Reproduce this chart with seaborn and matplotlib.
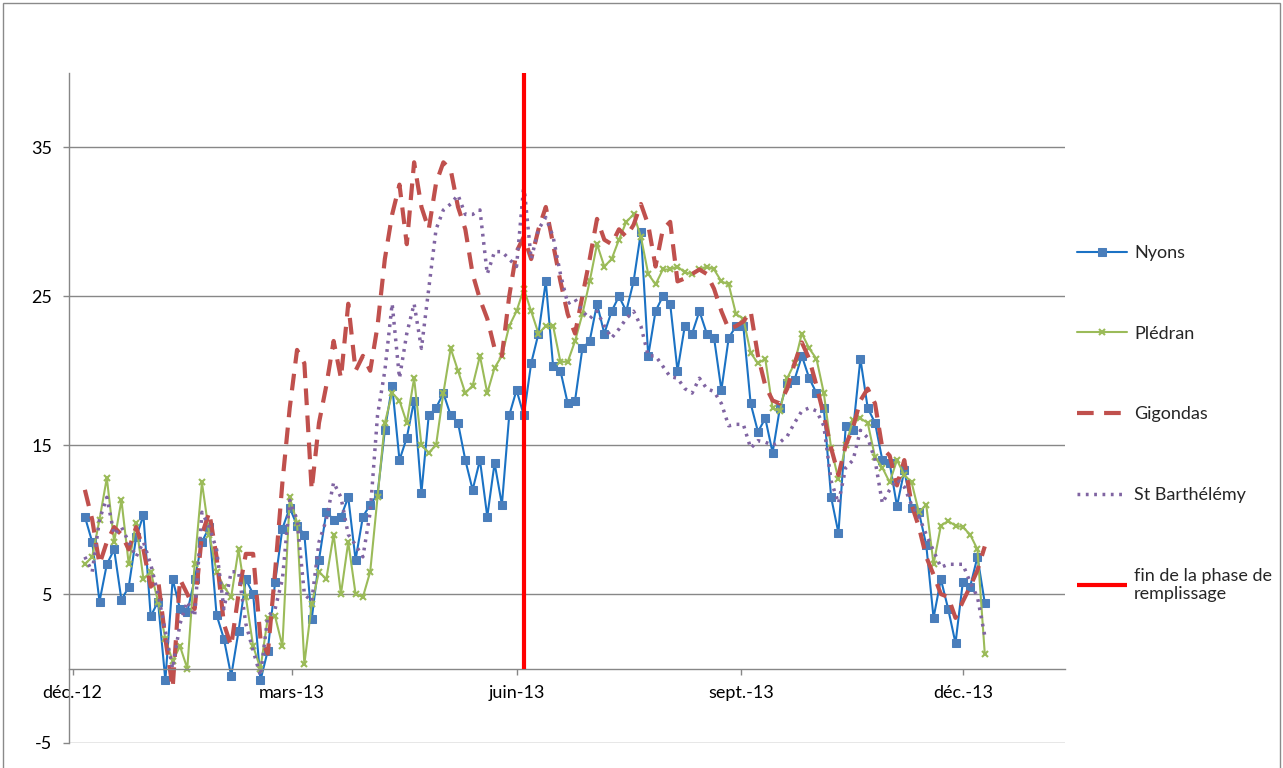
import numpy as np
import pandas as pd
import matplotlib
matplotlib.use("Agg")
import matplotlib.pyplot as plt
import seaborn as sns
from matplotlib.patches import Rectangle

# relevés tous les 3 jours, du 6 déc. 2012 au 10 déc. 2013
dates = pd.date_range("2012-12-06", periods=124, freq="3D")

nyons = [10.2, 8.5, 4.5, 7.0, 8.0, 4.6, 5.5, 8.8, 10.3, 3.5, 4.5, -0.8, 6.0, 4.0, 3.8, 6.0, 8.5, 9.5, 3.6, 2.0,
         -0.5, 2.5, 6.0, 5.0, -0.8, 1.2, 5.8, 9.4, 10.8, 9.6, 9.0, 3.3, 7.3, 10.5, 10.0, 10.2, 11.5, 7.3, 10.2, 11.0, 11.7, 16.0,
         19.0, 14.0, 15.5, 18.0, 11.8, 17.0, 17.5, 18.5, 17.0, 16.5, 14.0, 12.0, 14.0, 10.2, 13.8, 11.0, 17.0, 18.7, 17.0, 20.5, 22.5, 26.0,
         20.3, 20.0, 17.8, 18.0, 21.5, 22.0, 24.5, 22.5, 24.0, 25.0, 24.0, 26.0, 29.3, 21.0, 24.0, 25.0, 24.5, 20.0, 23.0, 22.5, 24.0, 22.5,
         22.2, 18.7, 22.2, 23.0, 23.0, 17.8, 15.9, 16.8, 14.5, 17.5, 19.2, 19.4, 21.0, 19.5, 18.5, 17.5, 11.5, 9.1, 16.3, 16.0, 20.8,
         17.5, 16.5, 14.0, 13.8, 10.9, 13.3, 10.8, 10.5, 8.3, 3.4, 6.0, 4.0, 1.7, 5.8, 5.5, 7.5, 4.4]

pledran = [7.0, 7.5, 10.0, 12.8, 8.5, 11.3, 7.0, 9.8, 6.0, 6.5, 4.5, 2.0, 0.5, 1.5, 0.0, 7.0, 12.5, 9.0, 6.5, 5.5,
           4.8, 8.0, 4.8, 1.5, 0.0, 3.4, 3.5, 1.5, 11.5, 9.8, 0.3, 4.3, 6.5, 6.0, 9.0, 5.0, 8.5, 5.0, 4.8, 6.5, 11.5, 16.5,
           18.5, 18.0, 16.5, 19.5, 15.0, 14.5, 15.0, 18.5, 21.5, 20.0, 18.5, 19.0, 21.0, 18.5, 20.2, 21.0, 23.0, 24.0, 25.5, 24.0, 22.5, 23.0,
           23.0, 20.6, 20.6, 22.0, 23.8, 26.0, 28.5, 27.0, 27.5, 28.8, 30.0, 30.5, 29.0, 26.5, 25.8, 26.8, 26.8, 27.0, 26.6, 26.5, 26.8, 27.0,
           26.8, 26.0, 25.8, 23.8, 23.5, 21.2, 20.5, 20.8, 17.5, 17.3, 19.5, 20.5, 22.5, 21.5, 20.8, 18.5, 14.8, 12.7, 15.0, 16.7, 16.8,
           16.5, 14.2, 13.5, 12.5, 14.0, 13.0, 12.5, 10.5, 11.0, 7.0, 9.6, 9.9, 9.6, 9.5, 9.0, 8.0, 1.0]

gigondas = [12.0, 10.0, 7.0, 8.5, 9.5, 9.0, 8.0, 9.5, 8.0, 5.5, 6.0, 2.0, -1.3, 6.0, 5.0, 4.0, 9.0, 10.5, 7.5, 3.0,
            1.5, 5.0, 7.7, 7.7, 2.0, 1.0, 6.5, 12.5, 17.5, 21.4, 20.5, 12.0, 16.5, 19.0, 22.0, 19.5, 24.5, 20.0, 21.0, 20.0, 23.0, 27.5,
            30.5, 32.5, 28.5, 34.0, 31.0, 29.5, 32.6, 34.0, 33.5, 31.0, 29.5, 26.5, 24.8, 23.5, 21.5, 21.0, 25.0, 28.0, 29.0, 27.5, 29.5, 31.0,
            28.5, 26.0, 23.8, 22.5, 25.0, 27.5, 30.2, 28.8, 28.5, 29.5, 29.0, 29.8, 31.2, 29.8, 27.0, 29.5, 30.0, 26.0, 26.2, 26.5, 26.8, 26.5,
            25.5, 24.0, 22.8, 23.0, 23.3, 24.0, 21.0, 19.0, 18.0, 17.8, 18.8, 20.5, 21.9, 20.8, 19.0, 17.0, 14.8, 13.0, 15.0, 16.2, 18.0,
            18.8, 17.8, 14.8, 14.3, 12.3, 14.0, 11.0, 9.5, 7.5, 6.3, 5.0, 4.8, 3.4, 4.5, 5.5, 6.6, 8.2]

st_barth = [7.5, 6.5, 10.0, 11.5, 9.0, 9.5, 8.5, 7.5, 8.5, 7.0, 5.0, 2.5, 0.0, 3.0, 4.5, 3.5, 10.5, 9.5, 8.0, 4.0,
            6.5, 6.5, 3.0, 1.2, -0.5, 3.5, 4.0, 6.0, 11.3, 10.0, 5.0, 4.5, 8.5, 10.0, 12.5, 11.5, 9.0, 8.3, 7.5, 10.5, 17.0, 20.0,
            24.5, 19.5, 22.5, 24.5, 21.5, 25.5, 29.5, 30.8, 31.2, 31.8, 30.5, 30.5, 30.8, 26.5, 28.0, 28.0, 27.5, 27.0, 32.5, 27.5, 29.5, 30.3,
            29.0, 26.5, 24.5, 24.8, 24.0, 23.5, 24.0, 23.0, 22.2, 22.8, 23.5, 24.0, 23.0, 21.0, 21.0, 20.3, 19.6, 19.5, 18.8, 18.5, 19.5, 18.8,
            18.6, 17.8, 16.3, 16.4, 16.4, 14.8, 15.3, 15.2, 15.0, 15.2, 15.6, 16.5, 17.3, 17.5, 17.3, 16.3, 12.6, 11.1, 13.5, 14.0, 16.0,
            15.5, 14.0, 11.1, 12.0, 12.7, 12.2, 11.0, 10.2, 9.0, 7.9, 6.8, 7.0, 7.0, 7.0, 5.8, 4.8, 2.2]

fin_remplissage = pd.Timestamp("2013-06-04")

tick_dates = pd.to_datetime(["2012-12-01", "2013-03-01", "2013-06-01", "2013-09-01", "2013-12-01"])
tick_labels = ["déc.-12", "mars-13", "juin-13", "sept.-13", "déc.-13"]
y_ticks = [-5, 5, 15, 25, 35]

sns.set_theme(style="white")
plt.rcParams["font.family"] = ["Lato", "DejaVu Sans"]
plt.rcParams["axes.unicode_minus"] = False

fig = plt.figure(figsize=(12.83, 7.68), dpi=100)
ax = fig.add_axes([0.0538, 0.0326, 0.776, 0.8724])

sns.lineplot(x=dates, y=nyons, ax=ax, color="#1B72C4", linewidth=1.5,
             marker="s", markersize=5.5, markerfacecolor="#4A7EBB", markeredgecolor="#4A7EBB",
             label="Nyons")
sns.lineplot(x=dates, y=pledran, ax=ax, color="#9BBB59", linewidth=1.5,
             marker="x", markersize=5, markeredgewidth=1.5, markeredgecolor="#9BBB59",
             label="Plédran")
sns.lineplot(x=dates, y=gigondas, ax=ax, color="#C0504D", linewidth=3,
             linestyle=(0, (4, 2.5)), label="Gigondas")
sns.lineplot(x=dates, y=st_barth, ax=ax, color="#8064A2", linewidth=2.5,
             linestyle=(0, (0.8, 1.6)), label="St Barthélémy")
ax.vlines(fin_remplissage, 0, 40, color="#FF0000", linewidth=3,
          label="fin de la phase de\nremplissage", zorder=5)

ax.set_xlim(pd.Timestamp("2012-11-29 12:00"), pd.Timestamp("2014-01-11 18:00"))
ax.set_ylim(-5, 40)
ax.set_yticks(y_ticks)
ax.set_xticks(tick_dates)
ax.set_xticklabels(tick_labels)
ax.set_xlabel("")
ax.set_ylabel("")

ax.yaxis.grid(True, color="#878787", linewidth=1)
ax.xaxis.grid(False)
ax.set_axisbelow(True)
ax.spines["bottom"].set_position(("data", 0))
for side in ["top", "right"]:
    ax.spines[side].set_visible(False)
for side in ["left", "bottom"]:
    ax.spines[side].set_color("#878787")
    ax.spines[side].set_linewidth(1)
ax.tick_params(axis="x", direction="out", length=4, width=1, color="#878787",
               pad=8, labelsize=13, labelcolor="black", bottom=True)
ax.tick_params(axis="y", direction="out", length=4, width=1, color="#878787",
               pad=8, labelsize=13, labelcolor="black", left=True)

handles, labels = ax.get_legend_handles_labels()
ax.get_legend().remove()
fig.legend(handles, labels, loc="upper left", bbox_to_anchor=(1077 / 1283, 1 - 245 / 768),
           frameon=False, fontsize=13, labelspacing=3.58, handlelength=2.75,
           handletextpad=0.4, borderaxespad=0, borderpad=0)

fig.patches.append(Rectangle((3 / 1283, -0.01), 1 - 6 / 1283, 1.0 - 3 / 768 + 0.01,
                             transform=fig.transFigure, fill=False,
                             edgecolor="#8a8a8a", linewidth=1))

fig.savefig("out.png", dpi=100)
